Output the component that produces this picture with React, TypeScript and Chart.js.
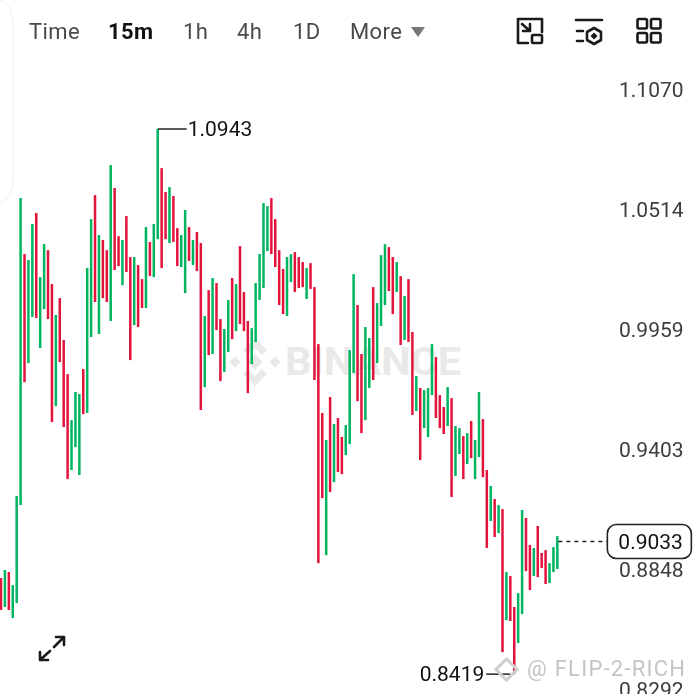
import React, { useEffect, useRef } from "react";
import { Chart, registerables } from "chart.js";

Chart.register(...registerables);

const highs = [
  0.8864, 0.8901, 0.8892, 0.8831, 0.9244, 1.0623, 1.0364, 1.0336, 1.0503, 1.0554,
  1.0257, 1.041, 1.0382, 1.0225, 1.0082, 1.016, 0.9966, 0.9808, 0.9595, 0.9725,
  0.9716, 0.9832, 1.0299, 1.0526, 1.0637, 1.0452, 1.0429, 1.0382, 1.0776, 1.067,
  1.0447, 1.0429, 1.054, 1.035, 1.035, 1.0313, 1.0248, 1.0489, 1.042, 1.0503,
  1.0943, 1.0762, 1.0651, 1.0674, 1.0633, 1.0484, 1.0452, 1.0568, 1.0489, 1.0429,
  1.0466, 1.0415, 1.0077, 1.0197, 1.0253, 1.023, 1.0063, 1.0017, 1.0151, 1.0253,
  1.0225, 1.0401, 1.0188, 1.0054, 1.0021, 1.023, 1.0364, 1.06, 1.0586, 1.0623,
  1.0526, 1.0382, 1.0295, 1.035, 1.0364, 1.0373, 1.035, 1.0327, 1.0299, 1.0322,
  1.0211, 0.9947, 0.9628, 0.9503, 0.9702, 0.9577, 0.9605, 0.9517, 0.9572, 0.9919,
  1.0271, 1.0128, 0.9901, 1.0026, 0.9975, 1.0211, 1.0137, 1.0359, 1.041, 1.0396,
  1.035, 1.0327, 1.0262, 1.017, 1.0248, 1.0003, 0.9799, 0.9744, 0.9734, 0.9744,
  0.9947, 0.9887, 0.9711, 0.9656, 0.9748, 0.9697, 0.9568, 0.9558, 0.9521, 0.9535,
  0.9591, 0.9503, 0.9725, 0.96, 0.9364, 0.929, 0.923, 0.9202, 0.9183, 0.8892,
  0.8873, 0.873, 0.8794, 0.9179, 0.9142, 0.9017, 0.9003, 0.9105, 0.898, 0.8993,
  0.8933, 0.9007, 0.9058,
];
const lows = [
  0.8716, 0.873, 0.8716, 0.8679, 0.8748, 0.9202, 0.9771, 0.9859, 1.0072, 1.0068,
  0.9929, 1.0109, 1.0063, 0.9586, 0.966, 0.9864, 0.9563, 0.9322, 0.9364, 0.947,
  0.9341, 0.9623, 0.9628, 0.998, 1.0142, 0.9994, 1.016, 1.0142, 1.0054, 1.029,
  1.0308, 1.022, 1.0281, 0.9873, 1.0035, 1.0026, 1.0114, 1.0114, 1.0262, 1.0257,
  1.0433, 1.0299, 1.0433, 1.0415, 1.042, 1.0308, 1.0304, 1.0183, 1.0332, 1.0313,
  1.0285, 0.9642, 0.9748, 0.9896, 0.9901, 1.0012, 0.9776, 0.9818, 0.991, 0.997,
  1.0007, 1.004, 1.0007, 0.972, 0.9855, 0.9957, 1.0151, 1.0207, 1.0378, 1.0364,
  1.0304, 1.0128, 1.0086, 1.0077, 1.0234, 1.0188, 1.0207, 1.0211, 1.0156, 1.0202,
  0.9781, 0.8933, 0.9234, 0.897, 0.9262, 0.9308, 0.9355, 0.9345, 0.9433, 0.9484,
  0.9813, 0.9683, 0.9535, 0.9595, 0.9744, 0.9781, 0.9859, 1.0031, 1.0128, 1.0193,
  1.0086, 1.0188, 0.9943, 0.9966, 0.9957, 0.9619, 0.9637, 0.941, 0.9558, 0.9517,
  0.9711, 0.9605, 0.9558, 0.9531, 0.9568, 0.9239, 0.9336, 0.9438, 0.9322, 0.9392,
  0.9419, 0.9322, 0.9424, 0.9331, 0.9003, 0.9128, 0.9054, 0.9072, 0.8521, 0.8669,
  0.8665, 0.8419, 0.8563, 0.8697, 0.8896, 0.8808, 0.8873, 0.8868, 0.891, 0.8836,
  0.8841, 0.8892, 0.8906,
];
const directions = (
  "d u d u u u d u u d " +
  "u u d d u d d d u u " +
  "u d u u d u d d u d " +
  "d u d d u d d u d u " +
  "u d d u d d u u d u " +
  "d d u d u d d u u d " +
  "u d d d u u u u u d " +
  "d d d u u d d d u d " +
  "d d d u d u d d u u " +
  "u d d u u d u u u d " +
  "d u d u d d u d u u " +
  "u d d d u d u u d u " +
  "d u u d d u d u d u " +
  "d d u u d d u d d d " +
  "u u u"
).split(" ");

const priceTicks = [1.107, 1.0514, 0.9959, 0.9403, 0.8848, 0.8292];
const timeframes = ["Time", "15m", "1h", "4h", "1D", "More"];
const highLabel = 1.0943;
const highIndex = 40;
const lowLabel = 0.8419;
const lowIndex = 131;
const lastPrice = 0.9033;
const emptySlotsRight = 14;

const UP = "#00B55F";
const DOWN = "#E2143C";
const FONT = "Roboto, sans-serif";

const tfLeft = [29, 108, 183, 237, 293, 350];

export default function App() {
  const ref = useRef<HTMLCanvasElement | null>(null);
  useEffect(() => {
    const n = highs.length;
    const labels = Array.from({ length: n + emptySlotsRight }, (_, i) => String(i));
    const data = highs.map((h, i) => [lows[i], h]);
    const colors = highs.map((_, i) => (directions[i] === "u" ? UP : DOWN));
    const annot = {
      id: "annot",
      afterDraw(c: any) {
        const { ctx, scales } = c;
        const x = scales.x;
        const y = scales.y;
        ctx.save();
        ctx.textBaseline = "middle";
        ctx.font = `21px ${FONT}`;
        ctx.fillStyle = "#111";
        ctx.strokeStyle = "#222";
        ctx.lineWidth = 1.5;
        // high label
        const hx = x.getPixelForValue(highIndex);
        const hy = y.getPixelForValue(highLabel);
        ctx.beginPath();
        ctx.moveTo(hx, hy);
        ctx.lineTo(hx + 29, hy);
        ctx.stroke();
        ctx.textAlign = "left";
        ctx.fillText(highLabel.toFixed(4), hx + 30, hy + 2);
        // low label
        const lx = x.getPixelForValue(lowIndex);
        const ly = y.getPixelForValue(lowLabel);
        ctx.beginPath();
        ctx.moveTo(lx - 28, ly);
        ctx.lineTo(lx - 4, ly);
        ctx.stroke();
        ctx.textAlign = "right";
        ctx.fillText(lowLabel.toFixed(4), lx - 30, ly + 2);
        // last price
        const ex = x.getPixelForValue(n - 1);
        const ey = y.getPixelForValue(lastPrice);
        ctx.setLineDash([4, 4]);
        ctx.strokeStyle = "#222";
        ctx.beginPath();
        ctx.moveTo(ex + 1, ey);
        ctx.lineTo(ex + 50, ey);
        ctx.stroke();
        ctx.setLineDash([]);
        ctx.fillStyle = "#fff";
        ctx.strokeStyle = "#222";
        ctx.lineWidth = 1.6;
        ctx.beginPath();
        ctx.roundRect(ex + 50, ey - 17, 84, 34, 9);
        ctx.fill();
        ctx.stroke();
        ctx.fillStyle = "#111";
        ctx.textAlign = "left";
        ctx.font = `21px ${FONT}`;
        ctx.fillText(lastPrice.toFixed(4), ex + 61, ey + 2);
        ctx.restore();
      },
    };
    const chart = new Chart(ref.current as HTMLCanvasElement, {
      type: "bar",
      data: {
        labels,
        datasets: [
          {
            data: data as any,
            backgroundColor: colors,
            borderWidth: 0,
            barThickness: 2.5,
            inflateAmount: 0,
            clip: false as any,
          },
        ],
      },
      options: {
        responsive: false,
        animation: false,
        layout: { padding: { left: 1, top: 0, right: 0, bottom: 0 } },
        plugins: { legend: { display: false }, tooltip: { enabled: false } },
        scales: {
          x: { type: "category", display: false, offset: false, grid: { display: false } },
          y: {
            position: "right",
            min: 0.82067,
            max: 1.15403,
            grid: { display: false, drawTicks: false },
            border: { display: false },
            afterBuildTicks(s: any) {
              s.ticks = priceTicks.map((value) => ({ value }));
            },
            afterFit(s: any) {
              s.width = 80.8;
              s.paddingTop = 0;
              s.paddingBottom = 0;
            },
            ticks: {
              autoSkip: false,
              padding: 6.8,
              labelOffset: -10,
              color: "#3c3c3c",
              font: { family: "Roboto, sans-serif", size: 21 },
              callback: (v: any) => Number(v).toFixed(4),
            },
          },
        },
      },
      plugins: [annot as any],
    });
    return () => chart.destroy();
  }, []);

  return (
    <div style={{ position: "fixed", left: 0, top: 0, width: 693, height: 694, overflow: "hidden", background: "#fff" }}>
      <svg width={693} height={694} style={{ position: "absolute", left: 0, top: 0 }}>
        <path d="M0 0 Q13 3 13 25 V178 Q13 198 0 203" fill="none" stroke="#efefef" strokeWidth={1} />
        <g fill="#e9e9e9" transform="translate(255 362)">
          <rect x={-5.5} y={-5.5} width={11} height={11} transform="rotate(45)" />
          <rect x={-4} y={-4} width={8} height={8} transform="translate(-20 0) rotate(45)" />
          <rect x={-4} y={-4} width={8} height={8} transform="translate(20 0) rotate(45)" />
          <path d="M0 -24 L12 -12 L7 -7 L0 -14 L-7 -7 L-12 -12 Z" />
          <path d="M0 24 L12 12 L7 7 L0 14 L-7 7 L-12 12 Z" />
        </g>
        <text x={285} y={375} fontFamily={FONT} fontWeight={700} fontSize={38} fill="#e9e9e9" textLength={176} lengthAdjust="spacingAndGlyphs">
          BINANCE
        </text>
      </svg>
      <canvas ref={ref} width={693} height={720} style={{ position: "absolute", left: 0, top: 0, display: "block" }} />
      {timeframes.map((t, i) => (
        <div
          key={t}
          style={{
            position: "absolute",
            left: tfLeft[i],
            top: 18,
            lineHeight: "28px",
            fontFamily: FONT,
            fontSize: 22,
            letterSpacing: 0.4,
            fontWeight: t === "15m" ? 700 : 400,
            color: t === "15m" ? "#111" : "#4a4a4a",
          }}
        >
          {t}
        </div>
      ))}
      <svg width={693} height={694} style={{ position: "absolute", left: 0, top: 0 }}>
        <path d="M411 27 H425 L418 37 Z" fill="#777" />
        <g fill="none" stroke="#1a1a1a" strokeWidth={2.6} strokeLinejoin="round" strokeLinecap="round">
          <path d="M542 32 V19 H518 V43 H528" />
          <rect x={532} y={35} width={10} height={8} rx={1} />
          <path d="M522 24 L530 31 M530 24 V31 H523" />
          <path d="M576 20 H602" />
          <path d="M577 31 H583 M577 41 H583" />
          <path d="M594 28 L601 32 V40 L594 44 L587 40 V32 Z" />
          <rect x={637.5} y={19} width={9.5} height={9.5} rx={1.5} />
          <rect x={651} y={19} width={9.5} height={9.5} rx={1.5} />
          <rect x={637.5} y={33} width={9.5} height={9.5} rx={1.5} />
          <rect x={651} y={33} width={9.5} height={9.5} rx={1.5} />
          <path d="M40 660 L50 651 M40 652 V660 H48" />
          <path d="M64 637 L54 647 M56 637 H64 V645" />
        </g>
        <rect x={591.5} y={33.5} width={5} height={5} transform="rotate(45 594 36)" fill="#1a1a1a" />
        <g>
          <g fill="none" stroke="#cfcfcf" strokeWidth={3}>
            <rect x={499} y={662} width={15} height={15} transform="rotate(45 506.5 669.5)" />
          </g>
          <text x={527} y={676} fontFamily={FONT} fontSize={22} fill="#c4c4c4" textLength={158} lengthAdjust="spacing">
            @ FLIP-2-RICH
          </text>
        </g>
      </svg>
    </div>
  );
}
